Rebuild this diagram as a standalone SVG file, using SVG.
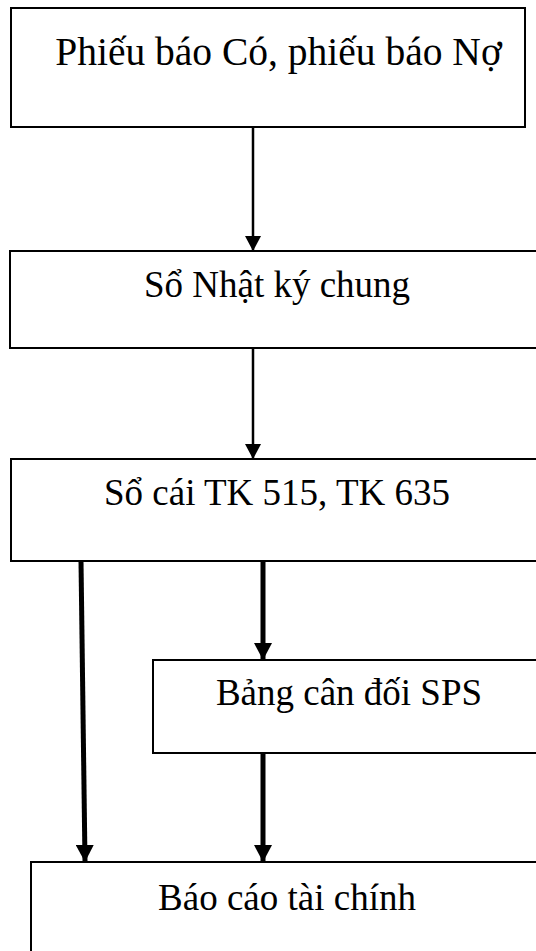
<svg xmlns="http://www.w3.org/2000/svg" width="536" height="951" viewBox="0 0 536 951">
<style>
.box{fill:#fff;stroke:#000;stroke-width:2}
.lbl{font-family:"Liberation Serif","Times New Roman",serif;font-size:37px;fill:#000;text-anchor:middle}
.big{font-size:39.5px}
.thin{stroke:#000;stroke-width:2.5;fill:none}
.thick{stroke:#000;stroke-width:5;fill:none}
</style>
<defs>
<marker id="ah" markerUnits="userSpaceOnUse" markerWidth="16" markerHeight="16" refX="15" refY="8" orient="auto" viewBox="0 0 16 16">
<path d="M0,0 L15,8 L0,16 z" fill="#000"/>
</marker>
<marker id="ahb" markerUnits="userSpaceOnUse" markerWidth="18" markerHeight="18" refX="17" refY="9" orient="auto" viewBox="0 0 18 18">
<path d="M0,0 L17,9 L0,18 z" fill="#000"/>
</marker>
</defs>
<rect width="536" height="951" fill="#fff"/>
<g id="connectors">
<line class="thin" x1="253" y1="127" x2="253" y2="251" marker-end="url(#ah)"/>
<line class="thin" x1="253" y1="348" x2="253" y2="459" marker-end="url(#ah)"/>
<line class="thick" x1="263" y1="561" x2="263" y2="660" marker-end="url(#ahb)"/>
<line class="thick" x1="81" y1="561" x2="85" y2="862" marker-end="url(#ahb)"/>
<line class="thick" x1="263" y1="753" x2="263" y2="862" marker-end="url(#ahb)"/>
</g>
<g id="node1">
<rect class="box" x="11" y="8" width="514" height="119"/>
<text class="lbl big" x="278.5" y="65">Phiếu báo Có, phiếu báo Nợ</text>
</g>
<g id="node2">
<rect class="box" x="10" y="251" width="540" height="97"/>
<text class="lbl" x="277" y="297">Sổ Nhật ký chung</text>
</g>
<g id="node3">
<rect class="box" x="11" y="459" width="540" height="102"/>
<text class="lbl" x="277" y="505">Sổ cái TK 515, TK 635</text>
</g>
<g id="node4">
<rect class="box" x="153" y="660" width="400" height="93"/>
<text class="lbl" x="349" y="705">Bảng cân đối SPS</text>
</g>
<g id="node5">
<rect class="box" x="31" y="862" width="520" height="120"/>
<text class="lbl" x="287" y="910">Báo cáo tài chính</text>
</g>
</svg>
